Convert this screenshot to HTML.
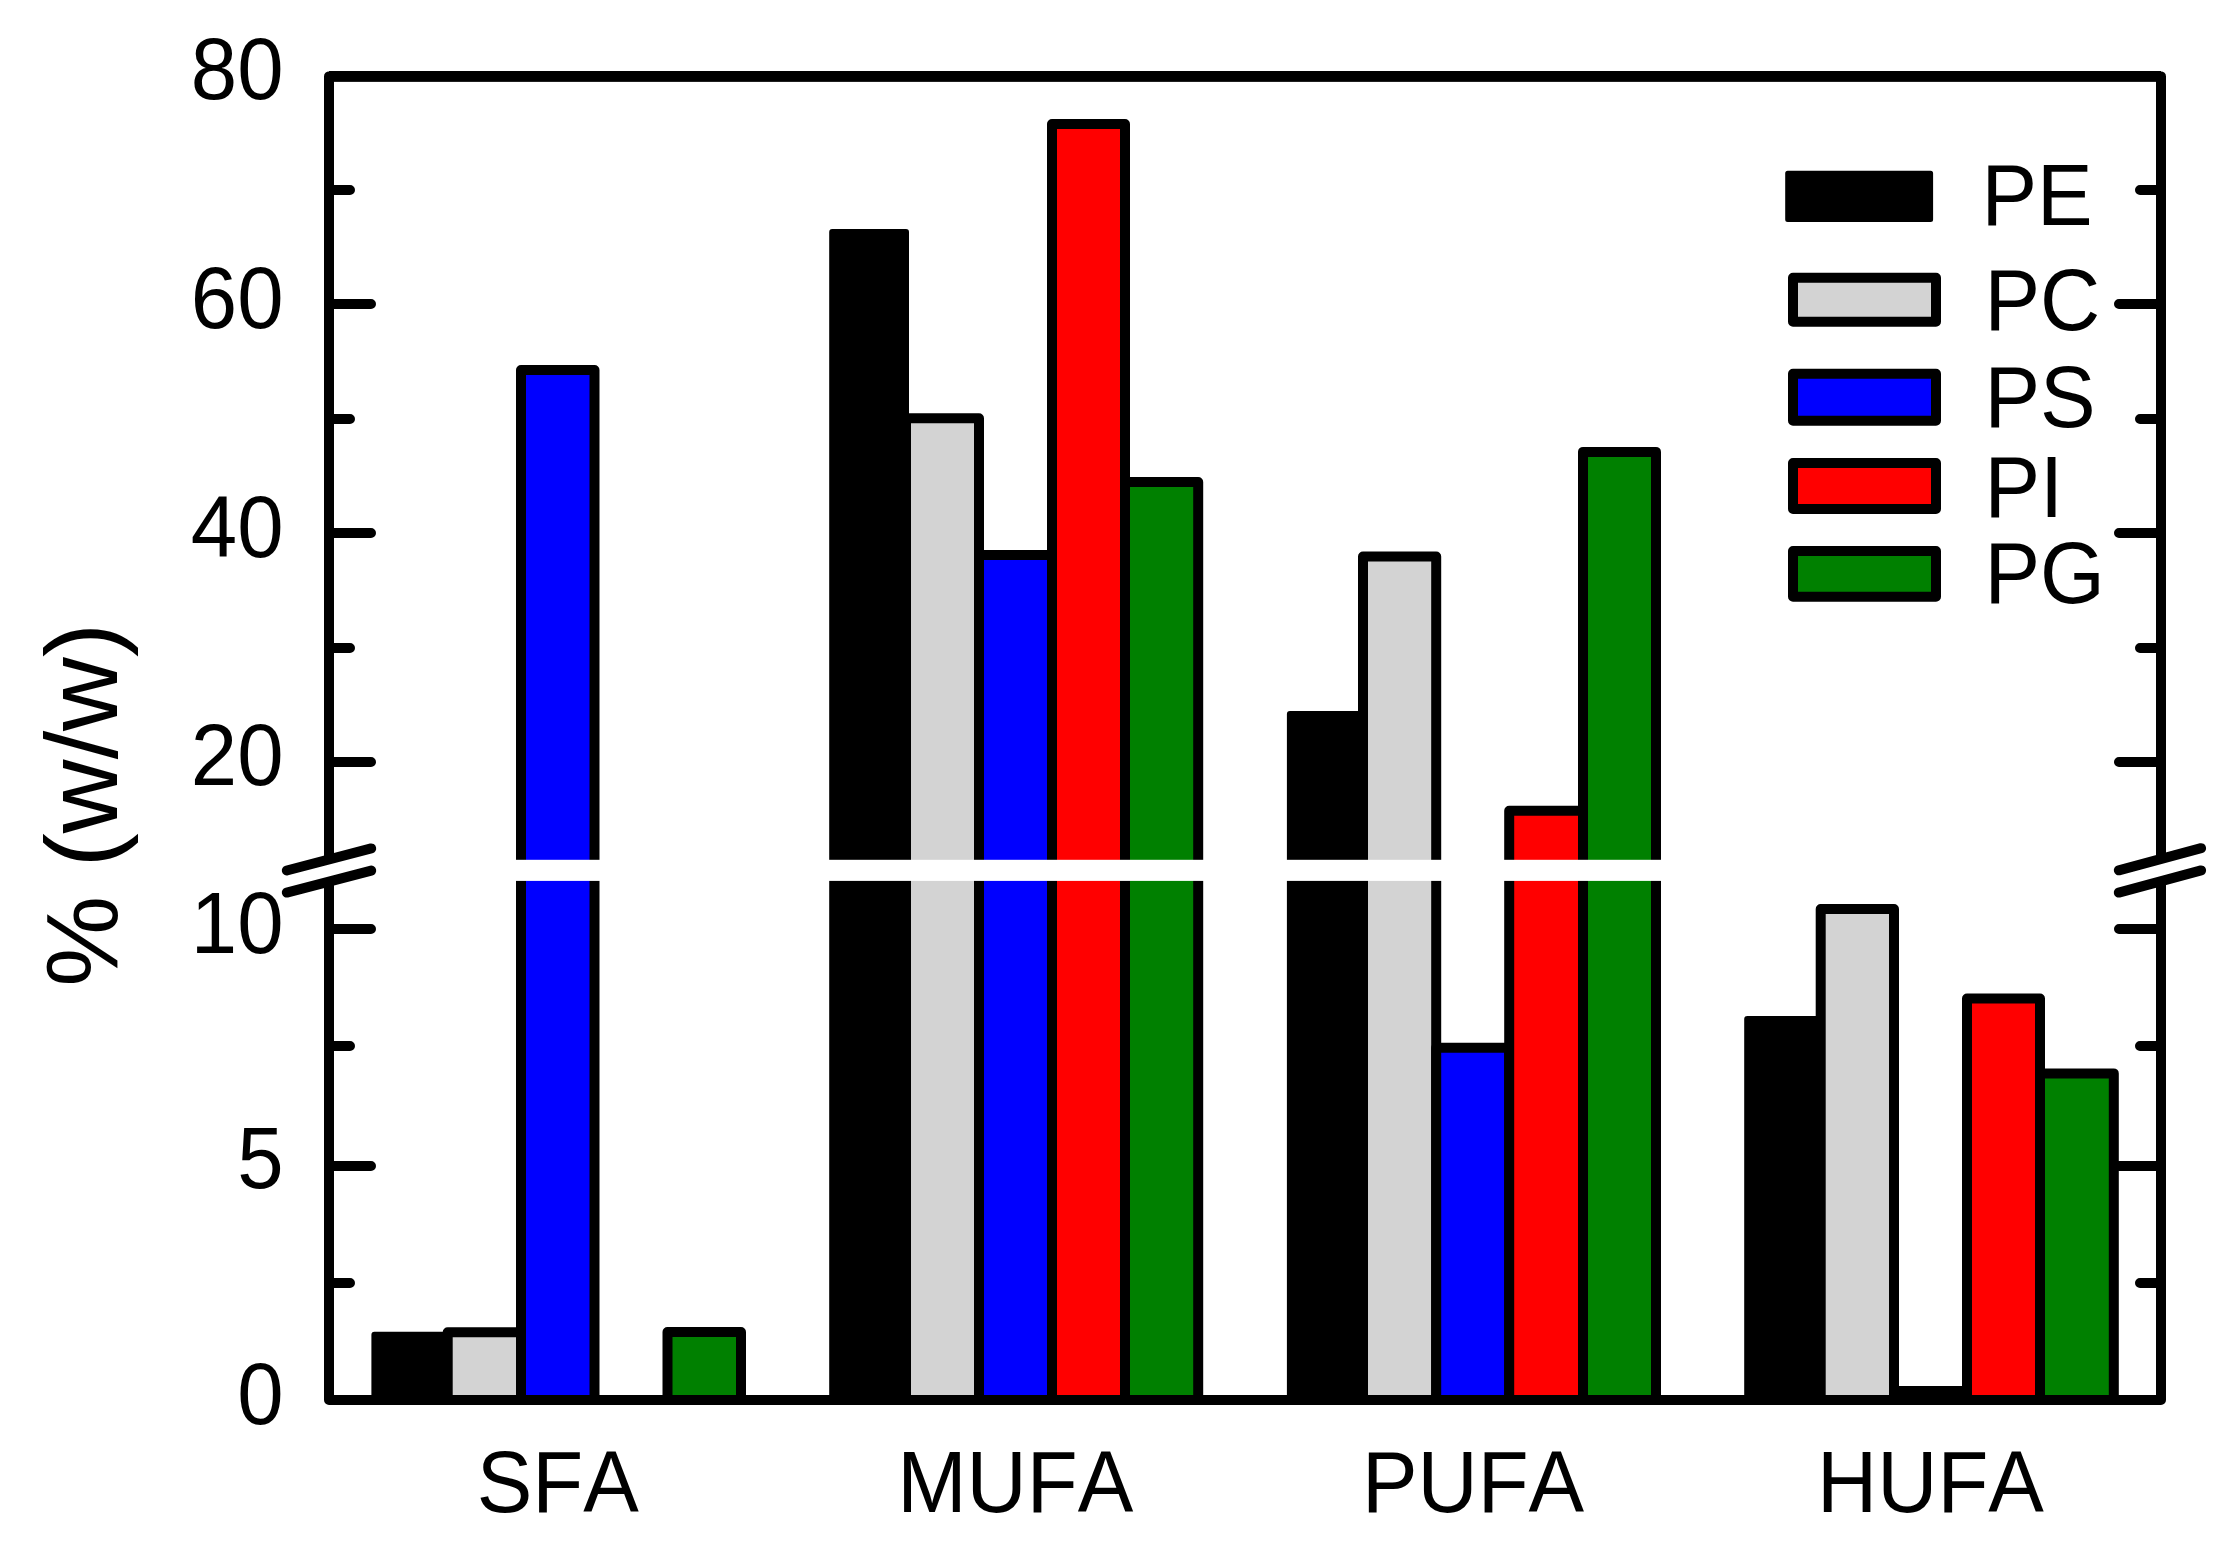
<!DOCTYPE html>
<html lang="en"><head><meta charset="utf-8"><title>Fatty acid composition of phospholipid classes</title>
<style>html,body{margin:0;padding:0;background:#fff;}body{width:2232px;height:1566px;overflow:hidden;}svg{display:block;}text{font-family:"Liberation Sans",sans-serif;fill:#000;font-kerning:none;font-variant-ligatures:none;}</style>
</head><body>
<svg width="2232" height="1566" viewBox="0 0 2232 1566">
<rect x="0" y="0" width="2232" height="1566" fill="#fff"/>
<g stroke="#000" stroke-linejoin="round">
<rect x="374.40" y="1334.70" width="73.30" height="65.30" fill="#000000" stroke-width="6"/>
<rect x="447.70" y="1332.20" width="73.30" height="67.80" fill="#d3d3d3" stroke-width="10"/>
<rect x="521.00" y="370.00" width="73.50" height="1030.00" fill="#0000ff" stroke-width="10"/>
<rect x="667.50" y="1332.00" width="73.50" height="68.00" fill="#008000" stroke-width="10"/>
<rect x="832.20" y="232.00" width="73.80" height="1168.00" fill="#000000" stroke-width="6"/>
<rect x="906.00" y="418.20" width="73.00" height="981.80" fill="#d3d3d3" stroke-width="10"/>
<rect x="979.00" y="554.90" width="73.00" height="845.10" fill="#0000ff" stroke-width="10"/>
<rect x="1052.00" y="124.00" width="73.00" height="1276.00" fill="#ff0000" stroke-width="10"/>
<rect x="1125.00" y="482.00" width="73.20" height="918.00" fill="#008000" stroke-width="10"/>
<rect x="1289.90" y="714.00" width="73.10" height="686.00" fill="#000000" stroke-width="6"/>
<rect x="1363.00" y="556.60" width="73.20" height="843.40" fill="#d3d3d3" stroke-width="10"/>
<rect x="1436.20" y="1047.80" width="73.00" height="352.20" fill="#0000ff" stroke-width="10"/>
<rect x="1509.20" y="810.80" width="73.80" height="589.20" fill="#ff0000" stroke-width="10"/>
<rect x="1583.00" y="451.90" width="73.00" height="948.10" fill="#008000" stroke-width="10"/>
<rect x="1747.20" y="1019.00" width="73.50" height="381.00" fill="#000000" stroke-width="6"/>
<rect x="1820.70" y="909.00" width="73.30" height="491.00" fill="#d3d3d3" stroke-width="10"/>
<rect x="1894.00" y="1391.00" width="73.00" height="9.00" fill="#0000ff" stroke-width="10"/>
<rect x="1967.00" y="998.50" width="73.00" height="401.50" fill="#ff0000" stroke-width="10"/>
<rect x="2040.00" y="1073.40" width="73.80" height="326.60" fill="#008000" stroke-width="10"/>
</g>
<rect x="340" y="859.8" width="1810" height="21.1" fill="#fff"/>
<g stroke="#000" stroke-width="10" fill="none" stroke-linecap="round" stroke-linejoin="round">
<path d="M329.0 859 L329.0 76.4 L2161.0 76.4 L2161.0 859" stroke-linecap="butt"/>
<path d="M329.0 76.4 L2161.0 76.4" stroke-linecap="butt" stroke-width="10.8"/>
<path d="M329.0 881.5 L329.0 1400.0 L2161.0 1400.0 L2161.0 881.5" stroke-linecap="butt"/>
<path d="M329.0 304.0 h42 M2161.0 304.0 h-42"/>
<path d="M329.0 533.0 h42 M2161.0 533.0 h-42"/>
<path d="M329.0 762.0 h42 M2161.0 762.0 h-42"/>
<path d="M329.0 929.0 h42 M2161.0 929.0 h-42"/>
<path d="M329.0 1166.0 h42 M2161.0 1166.0 h-42"/>
<path d="M329.0 190.0 h21 M2161.0 190.0 h-21"/>
<path d="M329.0 419.0 h21 M2161.0 419.0 h-21"/>
<path d="M329.0 648.0 h21 M2161.0 648.0 h-21"/>
<path d="M329.0 1046.0 h21 M2161.0 1046.0 h-21"/>
<path d="M329.0 1283.0 h21 M2161.0 1283.0 h-21"/>
<path d="M286.8 870.5 L371.2 848.4 M286.8 892.6 L371.2 870.6"/>
<path d="M2118.8 870.3 L2201.1 848.2 M2118.8 892.6 L2201.1 870.4"/>
</g>
<g font-size="83.33" text-anchor="end">
<text transform="translate(283.5 99.2) scale(1 1.04)">80</text>
<text transform="translate(283.5 328.0) scale(1 1.04)">60</text>
<text transform="translate(283.5 557.0) scale(1 1.04)">40</text>
<text transform="translate(283.5 784.5) scale(1 1.04)">20</text>
<text transform="translate(283.5 953.0) scale(1 1.04)">10</text>
<text transform="translate(283.5 1188.0) scale(1 1.04)">5</text>
<text transform="translate(283.5 1423.8) scale(1 1.04)">0</text>
</g>
<g font-size="83.33" text-anchor="middle">
<text transform="translate(557.7 1512) scale(1 1.04)">SFA</text>
<text transform="translate(1015.2 1512) scale(1 1.04)">MUFA</text>
<text transform="translate(1473.0 1512) scale(1 1.04)">PUFA</text>
<text transform="translate(1930.5 1512) scale(1 1.04)">HUFA</text>
</g>
<text font-size="102.3" text-anchor="middle" transform="translate(117.3 804.8) rotate(-90)">% (w/w)</text>
<g stroke="#000" stroke-linejoin="round">
<rect x="1787.7" y="173.3" width="142.9" height="46.1" fill="#000" stroke-width="5"/>
<rect x="1793" y="277.8" width="143" height="44.0" fill="#d3d3d3" stroke-width="10"/>
<rect x="1793" y="373.7" width="143" height="47.1" fill="#0000ff" stroke-width="10"/>
<rect x="1793" y="463.0" width="143" height="46.0" fill="#ff0000" stroke-width="10"/>
<rect x="1793" y="551.0" width="143" height="45.8" fill="#008000" stroke-width="10"/>
</g>
<g font-size="83.33">
<text transform="translate(1981.5 224.8) scale(1 1.04)">PE</text>
<text transform="translate(1984.5 329.5) scale(1 1.04)">PC</text>
<text transform="translate(1984.5 426.7) scale(1 1.04)">PS</text>
<text transform="translate(1984.5 516.8) scale(1 1.04)">PI</text>
<text transform="translate(1984.5 602.8) scale(1 1.04)">PG</text>
</g>
</svg></body></html>
